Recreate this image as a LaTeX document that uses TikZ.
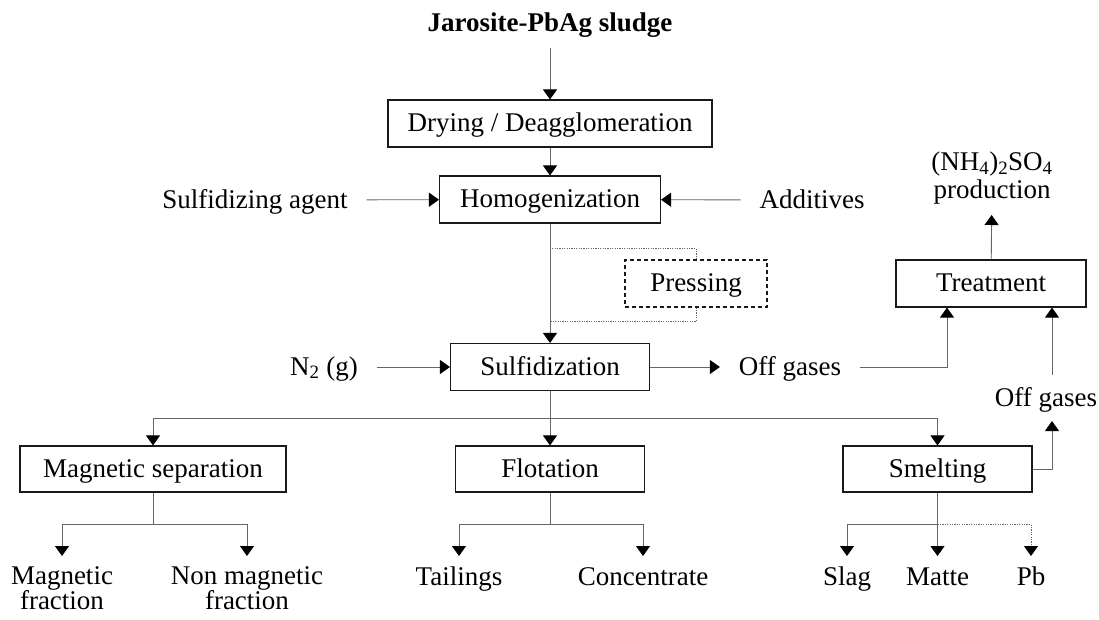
\documentclass[tikz,border=0pt]{standalone}
\usepackage{fontspec}
\setmainfont{Liberation Serif}
\usetikzlibrary{arrows.meta,calc}
\tikzset{
  proc/.style={draw=black!90, line width=1.1pt, minimum height=47pt, inner sep=0pt, fill=white, text height=20pt, text depth=4pt},
  lbl/.style={inner sep=3pt, outer xsep=16pt, outer ysep=8pt, align=center},
  mid/.style={text height=20pt, text depth=4pt},
  conn/.style={draw=black!60, line width=0.9pt},
  arr/.style={conn, -{Triangle[width=14pt,length=10pt,black]}},
  dot/.style={draw=black!60, line width=0.9pt, dash pattern=on 1.2pt off 1.2pt},
  dotarr/.style={dot, -{Triangle[width=14pt,length=10pt,black]}},
}
\begin{document}
\begin{tikzpicture}[x=1pt,y=-1pt,font=\fontsize{27}{25}\selectfont]
\useasboundingbox (0,0) rectangle (1099,619);

% process boxes
\node[proc, minimum width=324pt] (dry) at (550,123.5) {Drying / Deagglomeration};
\node[proc, minimum width=221pt] (hom) at (550,199.5) {Homogenization};
\node[proc, minimum width=142pt, dashed, dash pattern=on 4pt off 3pt] (press) at (696,283.5) {Pressing};
\node[proc, minimum width=199pt] (sul) at (550,367) {Sulfidization};
\node[proc, minimum width=190pt] (tre) at (991,283.5) {Treatment};
\node[proc, minimum width=266pt, minimum height=46pt] (mag) at (153,469) {Magnetic separation};
\node[proc, minimum width=189pt, minimum height=46pt] (flo) at (550,469) {Flotation};
\node[proc, minimum width=189pt, minimum height=46pt] (sme) at (937.5,469) {Smelting};

% labels
\node[lbl, anchor=south] (src) at (550,48) {\bfseries Jarosite-PbAg sludge};
\node[lbl, mid] (agent) at (255,200) {Sulfidizing agent};
\node[lbl, mid] (add) at (812,200) {Additives};
\node[lbl, mid] (n2) at (324,367) {N\textsubscript{2} (g)};
\node[lbl, mid] (off1) at (790,367) {Off gases};
\node[lbl, mid] (off2) at (1046,398) {Off gases};
\coordinate (ogx) at (1052,398);
\node[lbl, anchor=south] (nh4) at (992,215) {(NH\textsubscript{4})\textsubscript{2}SO\textsubscript{4}\\[3pt]production};
\node[lbl, anchor=north] (magf) at (62,556) {Magnetic\\fraction};
\node[lbl, anchor=north] (nmagf) at (247,556) {Non magnetic\\fraction};
\node[lbl, anchor=north, text height=18pt] (tail) at (459,556) {Tailings};
\node[lbl, anchor=north, text height=18pt] (conc) at (643,556) {Concentrate};
\node[lbl, anchor=north, text height=18pt] (slag) at (847,556) {Slag};
\node[lbl, anchor=north, text height=18pt] (matte) at (937.5,556) {Matte};
\node[lbl, anchor=north, text height=18pt] (pb) at (1031,556) {Pb};

% main line
\draw[arr] (src) -- (dry);
\draw[arr] (dry) -- (hom);
\draw[arr] (agent) -- (hom);
\draw[arr] (add) -- (hom);
\draw[arr] (hom) -- (sul);

% pressing bypass
\draw[dot] (press.north) -- ++(0,-11) coordinate (pu) -- (pu -| hom.south);
\draw[dot] (press.south) -- ++(0,14) coordinate (pl) -- (pl -| hom.south);

% sulfidization
\draw[arr] (n2) -- (sul);
\draw[arr] (sul) -- (off1);
\draw[arr] (off1.east) -| ($(tre.south)+(-44,0)$);
\draw[arr] (ogx |- off2.north) -- (ogx |- tre.south);
\draw[arr] (tre) -- (nh4);
\draw[arr] (sme.east) -| (ogx |- off2.south);

% branch
\draw[conn] (sul.south) -- ++(0,27) coordinate (br);
\draw[arr] (br) -| (mag.north);
\draw[arr] (br) -| (sme.north);
\draw[arr] (br) -- (flo.north);

% magnetic outputs
\draw[conn] (mag.south) -- ++(0,32) coordinate (mb);
\draw[arr] (mb) -| (magf.north);
\draw[arr] (mb) -| (nmagf.north);

% flotation outputs
\draw[conn] (flo.south) -- ++(0,32) coordinate (fb);
\draw[arr] (fb) -| (tail.north);
\draw[arr] (fb) -| (conc.north);

% smelting outputs
\draw[arr] (sme.south) -- (matte.north);
\path (sme.south) -- ++(0,32) coordinate (sb);
\draw[arr] (sb) -| (slag.north);
\draw[dotarr] (sb) -| (pb.north);
\end{tikzpicture}
\end{document}
